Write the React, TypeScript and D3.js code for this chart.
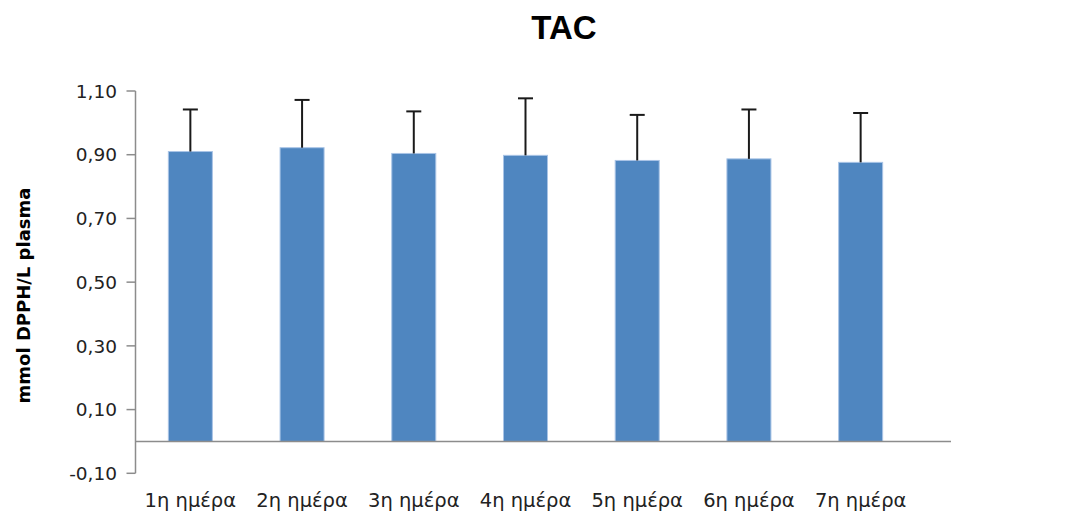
import React from "react";
import * as d3 from "d3";

const categories = ["1η ημέρα", "2η ημέρα", "3η ημέρα", "4η ημέρα", "5η ημέρα", "6η ημέρα", "7η ημέρα"];
const means = [0.91, 0.922, 0.904, 0.898, 0.882, 0.887, 0.876];
const errors = [0.132, 0.15, 0.132, 0.179, 0.143, 0.155, 0.155];
const yTicks = [-0.1, 0.1, 0.3, 0.5, 0.7, 0.9, 1.1];

const W = 1075;
const H = 518;

export default function App() {
  const y = d3.scaleLinear().domain([-0.1, 1.1]).range([473.3, 91]);
  const x = d3
    .scaleBand<string>()
    .domain(categories)
    .range([134.5, 916.5])
    .paddingInner(0.606)
    .paddingOuter(0.303);
  const axisX = 135.5;
  const zeroY = y(0);
  const fmt = (v: number) => v.toFixed(2).replace(".", ",");
  const cap = 7.5;

  return (
    <svg
      width={W}
      height={H}
      style={{ position: "absolute", left: 0, top: 0, background: "#fff" }}
    >
      <text
        x={564}
        y={39}
        textAnchor="middle"
        fontFamily="'Liberation Sans', Arial, sans-serif"
        fontWeight="bold"
        fontSize={33}
        fill="#000"
      >
        TAC
      </text>

      {/* y axis */}
      <line x1={axisX} x2={axisX} y1={y(1.1)} y2={y(-0.1)} stroke="#8c8c8c" strokeWidth={1.5} />
      {yTicks.map((t) => (
        <g key={t}>
          <line x1={axisX - 9} x2={axisX} y1={y(t)} y2={y(t)} stroke="#8c8c8c" strokeWidth={1.5} />
          <text
            x={117}
            y={y(t)}
            dy="0.36em"
            textAnchor="end"
            fontFamily="'DejaVu Sans', Verdana, sans-serif"
            fontSize={18.5}
            fill="#222"
          >
            {fmt(t)}
          </text>
        </g>
      ))}

      <text
        transform={`translate(30, 295.5) rotate(-90)`}
        textAnchor="middle"
        fontFamily="'DejaVu Sans', Verdana, sans-serif"
        fontWeight="bold"
        fontSize={18}
        fill="#000"
      >
        mmol DPPH/L plasma
      </text>

      {/* bars */}
      {categories.map((c, i) => {
        const x0 = x(c)!;
        const bw = x.bandwidth();
        const top = y(means[i]);
        return (
          <rect
            key={c}
            x={x0}
            y={top}
            width={bw}
            height={zeroY - top}
            fill="#4f86c0"
            stroke="#a9c4e6"
            strokeWidth={1}
          />
        );
      })}

      {/* error bars */}
      {categories.map((c, i) => {
        const cx = x(c)! + x.bandwidth() / 2;
        const y0 = y(means[i]);
        const y1 = y(means[i] + errors[i]);
        return (
          <g key={c} stroke="#1a1a1a" strokeWidth={2}>
            <line x1={cx} x2={cx} y1={y0} y2={y1} />
            <line x1={cx - cap} x2={cx + cap} y1={y1} y2={y1} />
          </g>
        );
      })}

      {/* zero line */}
      <line x1={axisX} x2={951} y1={zeroY} y2={zeroY} stroke="#8c8c8c" strokeWidth={1.5} />

      {/* category labels */}
      {categories.map((c) => (
        <text
          key={c}
          x={x(c)! + x.bandwidth() / 2}
          y={507}
          textAnchor="middle"
          fontFamily="'DejaVu Sans', Verdana, sans-serif"
          fontSize={19.5}
          fill="#222"
        >
          {c}
        </text>
      ))}
    </svg>
  );
}
